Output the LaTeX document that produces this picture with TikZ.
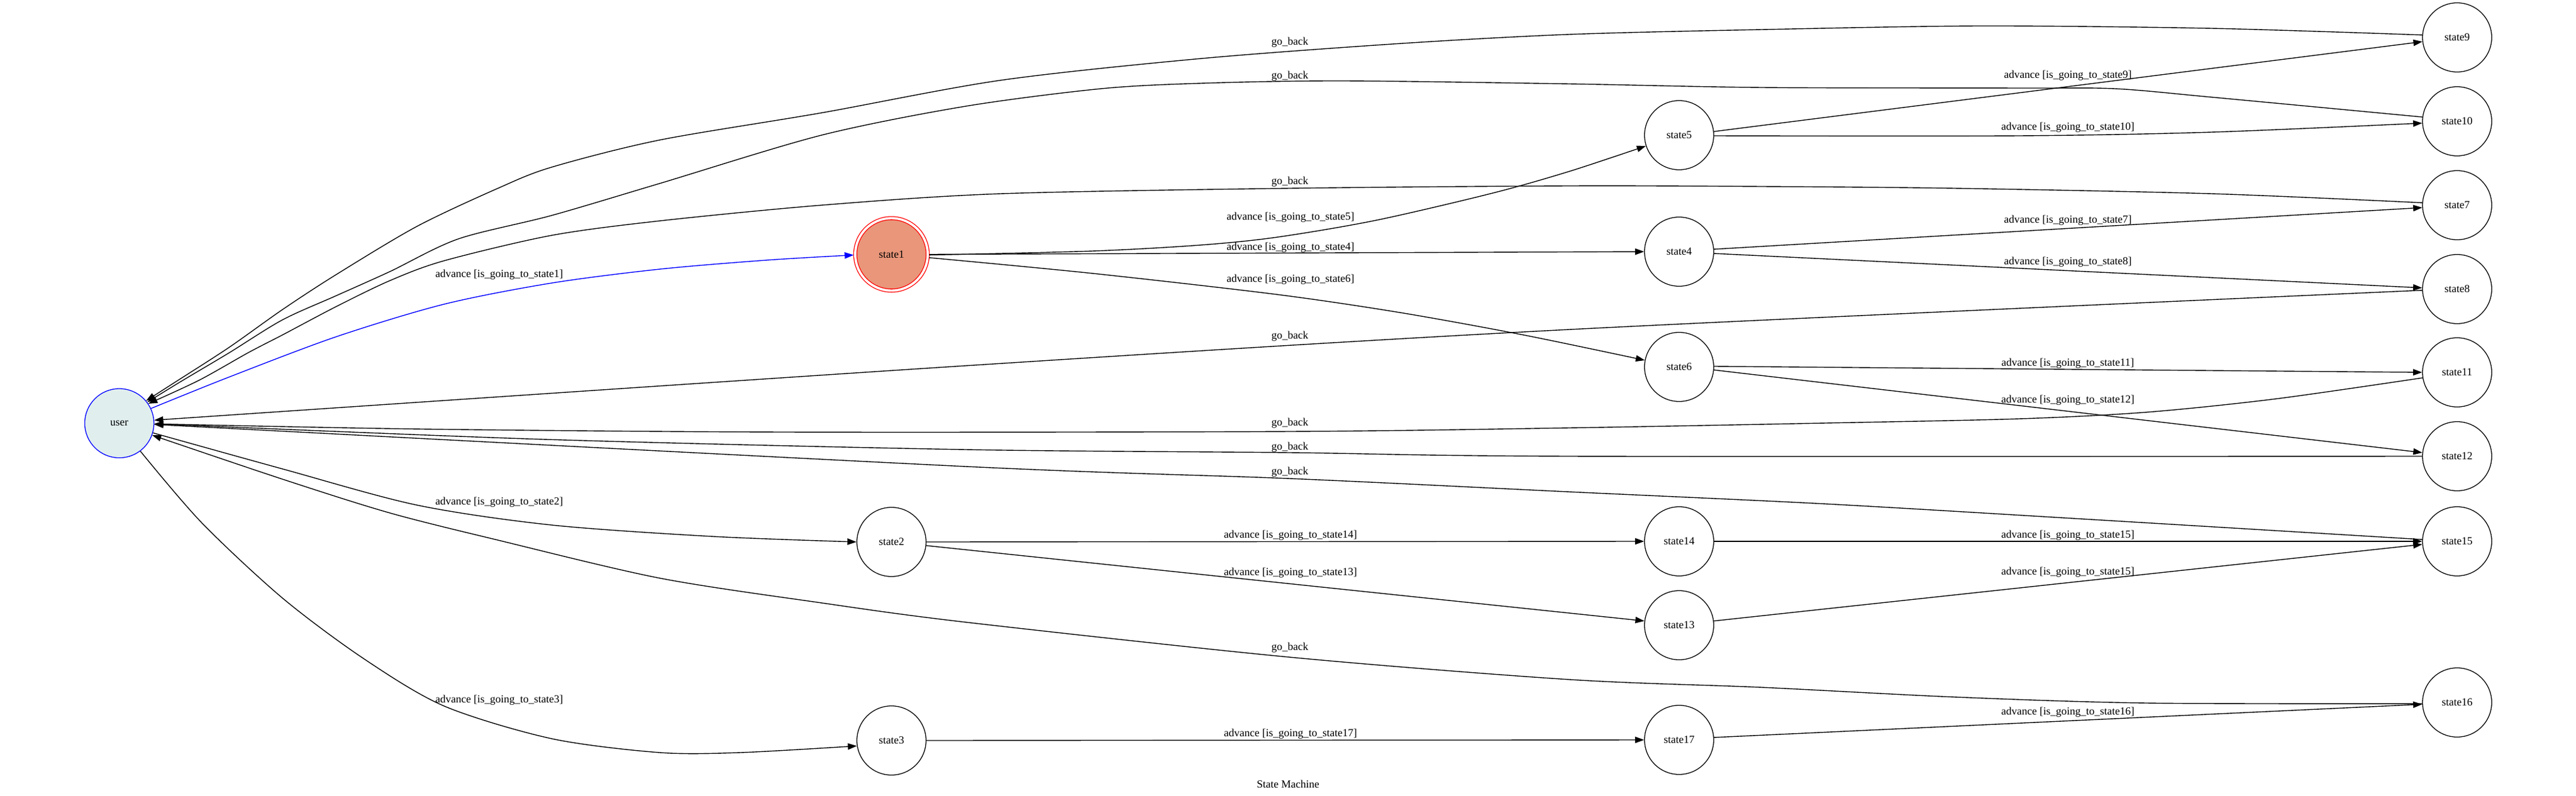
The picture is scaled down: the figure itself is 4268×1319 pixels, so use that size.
\documentclass[tikz,border=0pt]{standalone}
\usepackage{fontspec}
\setmainfont{Liberation Serif}
\usetikzlibrary{arrows.meta}
\definecolor{userfill}{HTML}{E0EEEE}
\definecolor{salmonfill}{HTML}{E9967A}
\begin{document}
\begin{tikzpicture}[x=1pt,y=-1pt,
  txt/.style={font=\fontsize{18}{22}\selectfont},
  state/.style={txt, circle, draw, line width=1.3pt, minimum size=114.6pt, inner sep=0pt},
  usernode/.style={state, draw=blue, fill=userfill},
  acceptnode/.style={txt, circle, draw=red, fill=salmonfill, line width=1.3pt,
     double=white, double distance=3.9pt, minimum size=120pt, inner sep=0pt, outer sep=2.6pt},
  lbl/.style={txt, inner sep=0pt},
  trans/.style={line width=1.4pt, -{Triangle[length=15pt,width=10.5pt]}},
  sm/.style={smooth, tension=0.5}
]
\useasboundingbox (0,0) rectangle (4268,1319);

% nodes
\node[usernode] (user) at (197.7,701.3) {user};
\node[acceptnode] (state1) at (1477,421.5) {state1};
\node[state] (state2) at (1477,898) {state2};
\node[state] (state3) at (1477,1227) {state3};
\node[state] (state5) at (2782,224) {state5};
\node[state] (state4) at (2782,417) {state4};
\node[state] (state6) at (2782,608) {state6};
\node[state] (state14) at (2782,897) {state14};
\node[state] (state13) at (2782,1036) {state13};
\node[state] (state17) at (2782,1226) {state17};
\node[state] (state9) at (4071,62) {state9};
\node[state] (state10) at (4071,201) {state10};
\node[state] (state7) at (4071,340) {state7};
\node[state] (state8) at (4071,479) {state8};
\node[state] (state11) at (4071,617) {state11};
\node[state] (state12) at (4071,756) {state12};
\node[state] (state15) at (4071,897) {state15};
\node[state] (state16) at (4071,1164) {state16};

% advance edges from user
\draw[trans, blue] plot[sm] coordinates {(user.25) (379,625) (557,558) (736,504) (914,469) (1093,446) (1271,431) (state1.181)};
\draw[trans] plot[sm] coordinates {(user.-16) (468,777) (691,837) (914,870) (1182,889) (state2.180)};
\draw[trans] plot[sm] coordinates {(user.-53) (334,866) (468,991) (602,1091) (736,1170) (914,1224) (1093,1247) (1227,1247) (state3.189)};

% from state1
\draw[trans] plot[sm] coordinates {(state1.-1) (1810,416) (1990,406) (2116,393) (2280,365) (2473,320) (2600,284) (state5.198)};
\draw[trans] (state1.0) -- (state4.180);
\draw[trans] plot[sm] coordinates {(state1.-5) (1810,453) (2116,488) (2320,518) (2524,555) (state6.169)};

% from state2, state3
\draw[trans] (state2.0) -- (state14.180);
\draw[trans] (state2.-6) -- (state13.173);
\draw[trans] (state3.0) -- (state17.180);

% middle to right
\draw[trans] (state5.6) -- (state9.187);
\draw[trans] plot[sm] coordinates {(state5.-1) (3345,225) (3664,219) (state10.183)};
\draw[trans] (state4.4) -- (state7.184);
\draw[trans] (state4.-3) -- (state8.178);
\draw[trans] (state6.1) -- (state11.180);
\draw[trans] (state6.-5) -- (state12.174);
\draw[trans] (state14.0) -- (state15.180);
\draw[trans] (state13.7) -- (state15.185);
\draw[trans] (state17.4) -- (state16.183);

% go_back edges
\draw[trans] plot[sm] coordinates {(state9.176) (3664,47) (3281,43) (2919,49) (2600,57) (2322,72) (1990,97) (1658,133) (1361,187) (1093,232) (914,277) (825,312) (691,375) (557,455) (468,513) (379,576) (289,634) (user.40)};
\draw[trans] plot[sm] coordinates {(state10.173) (3664,161) (3504,147) (3345,146) (2919,145) (2600,139) (2222,134) (1990,138) (1824,147) (1600,176) (1361,224) (1093,304) (914,357) (759,396) (646,450) (557,490) (468,530) (379,585) (300,632) (user.37)};
\draw[trans] plot[sm] coordinates {(state7.176) (3664,321) (3238,312) (2919,309) (2600,308) (2137,312) (1658,321) (1361,340) (1093,366) (914,390) (736,432) (646,465) (557,508) (468,555) (412,584) (330,630) (user.34)};
\draw[trans] plot[sm] coordinates {(state8.182) (2600,546) (1600,606) (user.5)};
\draw[trans] plot[sm] coordinates {(state11.189) (3770,661) (3557,683) (3345,694) (3025,701) (2600,709) (2137,715) (1300,716) (700,711) (user.-1)};
\draw[trans] plot[sm] coordinates {(state12.180) (2600,756) (2137,750) (1600,745) (900,728) (user.-1.5)};
\draw[trans] plot[sm] coordinates {(state15.177) (3451,860) (3025,835) (2600,815) (2137,793) (1600,773) (user.-2)};
\draw[trans] plot[sm] coordinates {(state16.182) (3557,1165) (3238,1155) (2919,1139) (2600,1126) (2137,1089) (1600,1031) (1361,999) (1093,958) (825,895) (646,850) (468,794) (user.-20)};

% labels
\node[lbl] (l1) at (827,455) {advance [is\_going\_to\_state1]};
\node[lbl] (l2) at (827,832) {advance [is\_going\_to\_state2]};
\node[lbl] (l3) at (827,1160) {advance [is\_going\_to\_state3]};
\node[lbl] (l5) at (2138,360) {advance [is\_going\_to\_state5]};
\node[lbl] (l4) at (2138,410) {advance [is\_going\_to\_state4]};
\node[lbl] (l6) at (2138,463) {advance [is\_going\_to\_state6]};
\node[lbl] (l14) at (2138,887) {advance [is\_going\_to\_state14]};
\node[lbl] (l13) at (2138,949) {advance [is\_going\_to\_state13]};
\node[lbl] (l17) at (2138,1216) {advance [is\_going\_to\_state17]};
\node[lbl] (l9) at (3426,125) {advance [is\_going\_to\_state9]};
\node[lbl] (l10) at (3426,211) {advance [is\_going\_to\_state10]};
\node[lbl] (l7) at (3426,365) {advance [is\_going\_to\_state7]};
\node[lbl] (l8) at (3426,434) {advance [is\_going\_to\_state8]};
\node[lbl] (l11) at (3426,602) {advance [is\_going\_to\_state11]};
\node[lbl] (l12) at (3426,663) {advance [is\_going\_to\_state12]};
\node[lbl] (l15a) at (3426,887) {advance [is\_going\_to\_state15]};
\node[lbl] (l15b) at (3426,948) {advance [is\_going\_to\_state15]};
\node[lbl] (l16) at (3426,1180) {advance [is\_going\_to\_state16]};

\node[lbl] (g9) at (2137,70) {go\_back};
\node[lbl] (g10) at (2137,126) {go\_back};
\node[lbl] (g7) at (2137,301) {go\_back};
\node[lbl] (g8) at (2137,557) {go\_back};
\node[lbl] (g11) at (2137,701) {go\_back};
\node[lbl] (g12) at (2137,741) {go\_back};
\node[lbl] (g15) at (2137,782) {go\_back};
\node[lbl] (g16) at (2137,1073) {go\_back};

\node[lbl] (title) at (2134,1299) {State Machine};
\end{tikzpicture}
\end{document}
